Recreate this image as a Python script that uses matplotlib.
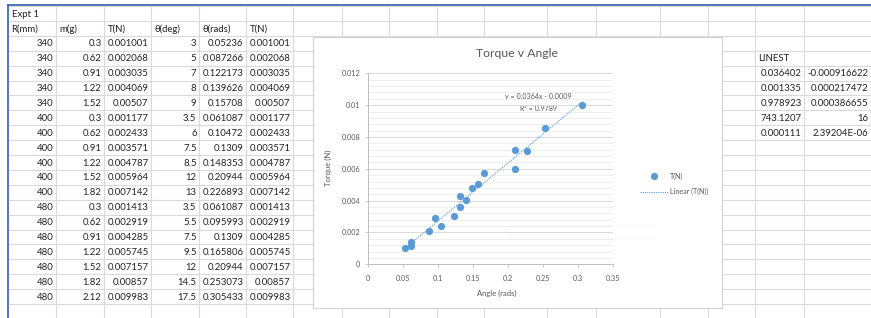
import numpy as np
import matplotlib
matplotlib.use('Agg')
from matplotlib import pyplot as plt
from matplotlib.patches import Rectangle
from matplotlib.ticker import FuncFormatter, MultipleLocator

plt.rcParams['font.family'] = ['Lato', 'DejaVu Sans']

# spreadsheet data (Expt 1)
r_mm = [340, 340, 340, 340, 340, 400, 400, 400, 400, 400, 400, 480, 480, 480, 480, 480, 480, 480]
m_g = [0.3, 0.62, 0.91, 1.22, 1.52, 0.3, 0.62, 0.91, 1.22, 1.52, 1.82, 0.3, 0.62, 0.91, 1.22, 1.52, 1.82, 2.12]
t_n = [0.001001, 0.002068, 0.003035, 0.004069, 0.00507, 0.001177, 0.002433, 0.003571, 0.004787,
       0.005964, 0.007142, 0.001413, 0.002919, 0.004285, 0.005745, 0.007157, 0.00857, 0.009983]
theta_deg = [3, 5, 7, 8, 9, 3.5, 6, 7.5, 8.5, 12, 13, 3.5, 5.5, 7.5, 9.5, 12, 14.5, 17.5]
theta_rads = [0.05236, 0.087266, 0.122173, 0.139626, 0.15708, 0.061087, 0.10472, 0.1309, 0.148353,
              0.20944, 0.226893, 0.061087, 0.095993, 0.1309, 0.165806, 0.20944, 0.253073, 0.305433]
headers = ['R(mm)', 'm(g)', 'T(N)', 'θ(deg)', 'θ(rads)', 'T(N)']

# LINEST output block
linest_a = ['0.036402', '0.001335', '0.978923', '743.1207', '0.000111']
linest_b = ['-0.000916622', '0.000217472', '0.000386655', '16', '2.39204E-06']
slope = 0.036402
intercept = -0.000916622

W, H = 871, 318
fig = plt.figure(figsize=(W / 100, H / 100), dpi=100)
fig.patch.set_facecolor('white')

# pixel-space axes for the sheet
bg = fig.add_axes([0, 0, 1, 1])
bg.set_xlim(0, W)
bg.set_ylim(H, 0)
bg.axis('off')

cols = [8, 56, 104, 151, 199, 246, 293, 342, 389, 437, 484, 547, 596, 660, 708, 755, 804, 871]
row_top = 6
row_h = 14.9
n_rows = 22
grid_c = '#dadada'
for k in range(n_rows):
    y = row_top + k * row_h
    bg.plot([cols[0], W], [y, y], color=grid_c, lw=0.8, zorder=1)
for x in cols[1:-1]:
    bg.plot([x, x], [row_top, H], color=grid_c, lw=0.8, zorder=1)
# blue sheet border
bg.plot([cols[0], W], [5, 5], color='#3f6bb5', lw=1.3, zorder=2)
bg.plot([cols[0], cols[0]], [5, H], color='#3f6bb5', lw=1.3, zorder=2)

cell_fs = 6.9
txt_c = '#222222'


def row_y(k):
    return row_top + row_h * (k + 0.5) + 0.6


def put_left(col, k, s):
    bg.text(cols[col] + 3.5, row_y(k), s, ha='left', va='center', fontsize=cell_fs, color=txt_c, zorder=3)


def put_right(col, k, s):
    bg.text(cols[col + 1] - 2.5, row_y(k), s, ha='right', va='center', fontsize=cell_fs, color=txt_c, zorder=3)


def fmt(v):
    s = '%.6f' % v
    return s.rstrip('0').rstrip('.')


put_left(0, 0, 'Expt 1')
for i, h in enumerate(headers):
    put_left(i, 1, h)
for i in range(len(r_mm)):
    k = i + 2
    put_right(0, k, '%d' % r_mm[i])
    put_right(1, k, '%g' % m_g[i])
    put_right(2, k, fmt(t_n[i]))
    put_right(3, k, '%g' % theta_deg[i])
    put_right(4, k, fmt(theta_rads[i]))
    put_right(5, k, fmt(t_n[i]))

put_left(15, 3, 'LINEST')
for i in range(len(linest_a)):
    put_right(15, 4 + i, linest_a[i])
    put_right(16, 4 + i, linest_b[i])

# chart area
chart = Rectangle((313, 37), 722 - 313, 308 - 37, facecolor='white', edgecolor='#d0d0d0', lw=0.8, zorder=5)
bg.add_patch(chart)
ghost = Rectangle((507, 225), 146, 13, facecolor='none', edgecolor='#f7f7f7', lw=0.8, zorder=6)
bg.add_patch(ghost)

chart_c = '#595959'
bg.text(516.7, 53.5, 'Torque v Angle', ha='center', va='center', fontsize=8.8, color=chart_c, zorder=6)
bg.text(538, 96.7, 'y = 0.0364x - 0.0009', ha='center', va='center', fontsize=5.1, color=chart_c, zorder=6)
bg.text(538, 108.3, 'R² = 0.9789', ha='center', va='center', fontsize=5.1, color=chart_c, zorder=6)

# plot area
ax = fig.add_axes([368 / W, 1 - 264.3 / H, (613 - 368) / W, (264.3 - 73.3) / H])
ax.patch.set_alpha(0)
ax.set_xlim(0, 0.35)
ax.set_ylim(0, 0.012)
ax.xaxis.set_major_locator(MultipleLocator(0.05))
ax.yaxis.set_major_locator(MultipleLocator(0.002))
ax.yaxis.set_minor_locator(MultipleLocator(0.0004))
gfmt = FuncFormatter(lambda v, p: '%g' % round(v, 6))
ax.xaxis.set_major_formatter(gfmt)
ax.yaxis.set_major_formatter(gfmt)
ax.grid(axis='y', which='major', color='#d9d9d9', lw=0.7)
ax.grid(axis='y', which='minor', color='#ececec', lw=0.6)
ax.set_axisbelow(True)
for s in ['top', 'right']:
    ax.spines[s].set_visible(False)
for s in ['left', 'bottom']:
    ax.spines[s].set_color('#bfbfbf')
    ax.spines[s].set_linewidth(0.7)
ax.tick_params(which='major', length=2.5, width=0.6, color='#bfbfbf', labelsize=5.2, labelcolor=chart_c, pad=3)
ax.tick_params(which='minor', length=0)
ax.tick_params(axis='x', pad=5)

blue = '#5b9bd5'
tx = np.array([min(theta_rads), max(theta_rads)])
ax.plot(theta_rads, t_n, 'o', color=blue, ms=4.2, mec=blue, label='T(N)', zorder=4)
ax.plot(tx, slope * tx + intercept, color=blue, lw=0.8, ls=(0, (1, 1)), label='Linear (T(N))', zorder=3)

ax.set_ylabel('Torque (N)', fontsize=5.5, color=chart_c)
ax.yaxis.set_label_coords(-0.148, 0.504)
ax.set_xlabel('Angle (rads)', fontsize=5.5, color=chart_c)
ax.xaxis.set_label_coords(0.525, -0.135)

leg = ax.legend(loc='upper left', bbox_to_anchor=(636 / W, 1 - 169 / H), bbox_transform=fig.transFigure,
                frameon=False, fontsize=5.1, handlelength=4.0, handletextpad=0.3, labelspacing=1.2,
                borderpad=0, numpoints=1)
for t in leg.get_texts():
    t.set_color(chart_c)

fig.savefig('out.png', dpi=100, facecolor='white')
